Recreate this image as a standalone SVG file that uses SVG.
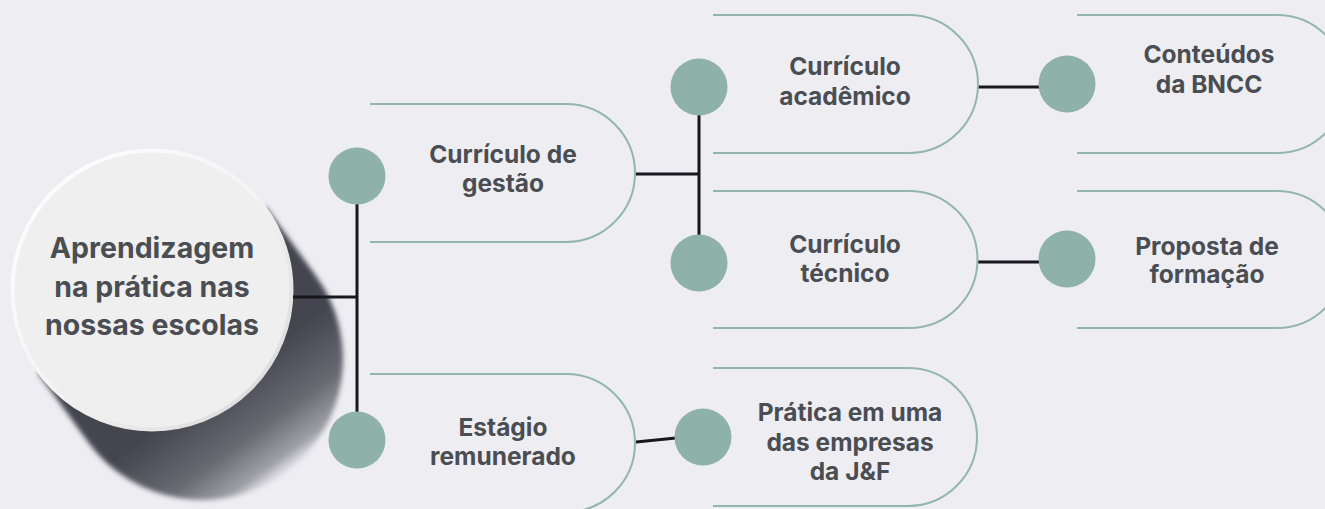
<svg xmlns="http://www.w3.org/2000/svg" width="1325" height="509" viewBox="0 0 1325 509">
<defs>
<style>
.pill{fill:none;stroke:#93b6ab;stroke-width:2}
.dot{fill:#8fb2a8}
.conn{fill:none;stroke:#17171c;stroke-width:3}
.lbl{font-family:Inter,"Noto Sans",sans-serif;font-weight:700;font-size:24.5px;fill:#4a4d52;text-anchor:middle}
.main{font-family:Inter,"Noto Sans",sans-serif;font-weight:700;font-size:28.5px;fill:#4a4d52;text-anchor:middle}
</style>
<linearGradient id="shg" gradientUnits="userSpaceOnUse" x1="220" y1="383" x2="291" y2="481">
<stop offset="0" stop-color="#44454f"/>
<stop offset="0.5" stop-color="#686972"/>
<stop offset="0.8" stop-color="#a0a0a8"/>
<stop offset="1" stop-color="#eeedf2" stop-opacity="0"/>
</linearGradient>
<linearGradient id="rim" x1="0" y1="0" x2="1" y2="1">
<stop offset="0" stop-color="#ffffff"/>
<stop offset="0.5" stop-color="#f4f4f4"/>
<stop offset="1" stop-color="#d6d6d6"/>
</linearGradient>
<filter id="blur" x="-30%" y="-30%" width="160%" height="160%"><feGaussianBlur stdDeviation="2.5"/></filter>
</defs>
<rect width="1325" height="509" fill="#eeedf2"/>

<g id="node-main">
<path d="M266 207 L316 276 A141 141 0 0 1 88 442 L38 373 Z" fill="url(#shg)" filter="url(#blur)"/>
<circle cx="152" cy="290" r="139.5" fill="#efefef" stroke="url(#rim)" stroke-width="4"/>
<text class="main" x="152" y="258">Aprendizagem</text>
<text class="main" x="152" y="297">na prática nas</text>
<text class="main" x="152" y="335">nossas escolas</text>
</g>

<g id="connectors">
<line class="conn" x1="293" y1="297" x2="357" y2="297"/>
<line class="conn" x1="357" y1="176" x2="357" y2="440"/>
<line class="conn" x1="635" y1="174" x2="699" y2="174"/>
<line class="conn" x1="699" y1="87" x2="699" y2="263"/>
<line class="conn" x1="978" y1="87" x2="1040" y2="87"/>
<line class="conn" x1="978" y1="262" x2="1040" y2="262"/>
<line class="conn" x1="636" y1="442" x2="676" y2="438"/>
</g>

<g id="node-gestao">
<path class="pill" d="M370 104 H566 A69 69 0 0 1 566 242 H370"/>
<circle class="dot" cx="357" cy="176" r="28.5"/>
<text class="lbl" x="503" y="163">Currículo de</text>
<text class="lbl" x="503" y="192">gestão</text>
</g>

<g id="node-academico">
<path class="pill" d="M713 15 H909 A69 69 0 0 1 909 153 H713"/>
<circle class="dot" cx="699" cy="87" r="28.5"/>
<text class="lbl" x="845" y="75">Currículo</text>
<text class="lbl" x="845" y="105">acadêmico</text>
</g>

<g id="node-tecnico">
<path class="pill" d="M713 191 H909 A68.5 68.5 0 0 1 909 328 H713"/>
<circle class="dot" cx="699" cy="263" r="28.5"/>
<text class="lbl" x="845" y="253">Currículo</text>
<text class="lbl" x="845" y="282">técnico</text>
</g>

<g id="node-bncc">
<path class="pill" d="M1077 15 H1277 A69 69 0 0 1 1277 153 H1077"/>
<circle class="dot" cx="1067" cy="84" r="28.5"/>
<text class="lbl" x="1209" y="63">Conteúdos</text>
<text class="lbl" x="1209" y="93">da BNCC</text>
</g>

<g id="node-proposta">
<path class="pill" d="M1077 191 H1277 A68.5 68.5 0 0 1 1277 328 H1077"/>
<circle class="dot" cx="1067" cy="259" r="28.5"/>
<text class="lbl" x="1207" y="255">Proposta de</text>
<text class="lbl" x="1207" y="283">formação</text>
</g>

<g id="node-estagio">
<path class="pill" d="M370 374 H566 A69 69 0 0 1 566 512 H370"/>
<circle class="dot" cx="357" cy="440" r="28.5"/>
<text class="lbl" x="503" y="436">Estágio</text>
<text class="lbl" x="503" y="465">remunerado</text>
</g>

<g id="node-pratica">
<path class="pill" d="M713 368 H908 A69 69 0 0 1 908 506 H713"/>
<circle class="dot" cx="703" cy="437" r="28.5"/>
<text class="lbl" x="850" y="421">Prática em uma</text>
<text class="lbl" x="850" y="451">das empresas</text>
<text class="lbl" x="850" y="480">da J&amp;F</text>
</g>
</svg>
